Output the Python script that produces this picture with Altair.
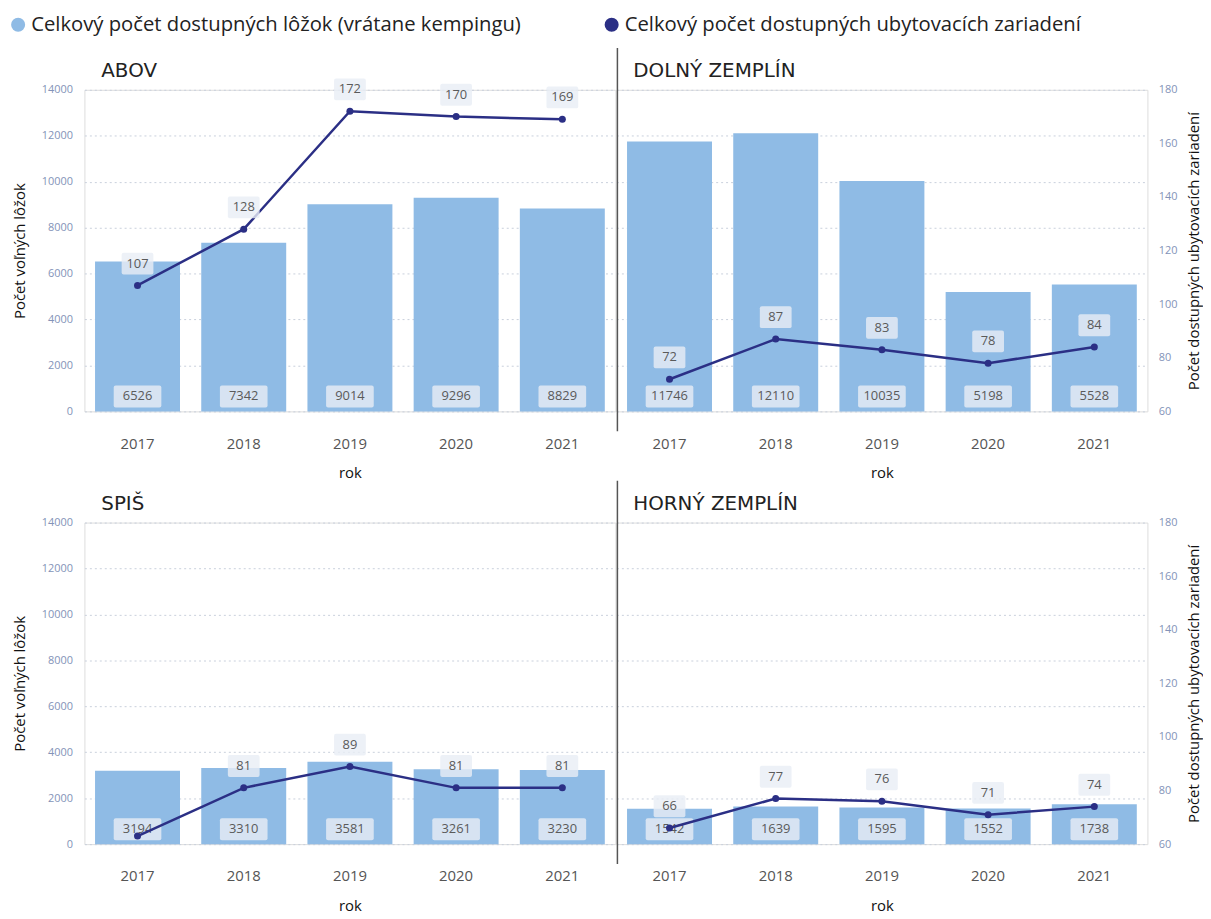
import altair as alt
import pandas as pd

# ---------------- data ----------------
regions = ["ABOV", "DOLNÝ ZEMPLÍN", "SPIŠ", "HORNÝ ZEMPLÍN"]
years = ["2017", "2018", "2019", "2020", "2021"]

beds_abov = [6526, 7342, 9014, 9296, 8829]
beds_dolny = [11746, 12110, 10035, 5198, 5528]
beds_spis = [3194, 3310, 3581, 3261, 3230]
beds_horny = [1542, 1639, 1595, 1552, 1738]

fac_abov = [107, 128, 172, 170, 169]
fac_dolny = [72, 87, 83, 78, 84]
fac_spis = [63, 81, 89, 81, 81]
fac_horny = [66, 77, 76, 71, 74]

bed_ticks = [0, 2000, 4000, 6000, 8000, 10000, 12000, 14000]
fac_ticks = [60, 80, 100, 120, 140, 160, 180]

series_beds = "Celkový počet dostupných lôžok (vrátane kempingu)"
series_fac = "Celkový počet dostupných ubytovacích zariadení"

beds_by_region = [beds_abov, beds_dolny, beds_spis, beds_horny]
fac_by_region = [fac_abov, fac_dolny, fac_spis, fac_horny]

rows = []
for reg, bl, fl in zip(regions, beds_by_region, fac_by_region):
    for y, b, f in zip(years, bl, fl):
        rows.append({"region": reg, "rok": y, "beds": b, "fac": f,
                     "s_beds": series_beds, "s_fac": series_fac})
df = pd.DataFrame(rows)

# ---------------- styling ----------------
BAR = "#8fbbe5"
LINE = "#2b2f85"
color_scale = alt.Scale(domain=[series_beds, series_fac], range=[BAR, LINE])

FONT = "Open Sans"
PW, PH = 535, 324

legend = alt.Legend(
    title=None, orient="none", legendX=-77, legendY=-76, direction="horizontal",
    labelFont=FONT, labelFontSize=20.4, labelColor="#222222", labelLimit=800,
    symbolType="circle", symbolSize=200, columnPadding=81, labelOffset=3,
    symbolStrokeWidth=0, symbolOpacity=1,
)

box_wide = ("M-2.2,-1.1L2.2,-1.1Q2.4,-1.1 2.4,-0.9L2.4,0.9Q2.4,1.1 2.2,1.1"
            "L-2.2,1.1Q-2.4,1.1 -2.4,0.9L-2.4,-0.9Q-2.4,-1.1 -2.2,-1.1Z")
box_narrow = ("M-1.4,-1.1L1.4,-1.1Q1.6,-1.1 1.6,-0.9L1.6,0.9Q1.6,1.1 1.4,1.1"
              "L-1.4,1.1Q-1.6,1.1 -1.6,0.9L-1.6,-0.9Q-1.6,-1.1 -1.4,-1.1Z")


def panel(region, side):
    d = df[df.region == region]
    base = alt.Chart(d)
    x = alt.X(
        "rok:N", sort=years,
        scale=alt.Scale(paddingInner=0.2, paddingOuter=0.1),
        axis=alt.Axis(title="rok", labelAngle=0, ticks=False, domain=False,
                      labelFont=FONT, labelFontSize=15, labelColor="#555555",
                      labelPadding=25, titleFont=FONT, titleFontSize=15,
                      titleFontWeight="normal", titleColor="#111111",
                      titlePadding=15),
    )
    grid_kw = dict(values=bed_ticks, grid=True, gridDash=[2, 3],
                   gridColor="#c9d0dc", gridWidth=1, ticks=False, domain=False)
    if side == "left":
        bar_axis = alt.Axis(title="Počet voľných lôžok", format="d",
                            labelFont=FONT, labelFontSize=11,
                            labelColor="#8393b8", labelPadding=12,
                            titleFont=FONT, titleFontSize=15,
                            titleFontWeight="normal", titleColor="#111111",
                            titlePadding=14, **grid_kw)
        line_axis = None
    else:
        bar_axis = alt.Axis(title=None, labels=False, **grid_kw)
        line_axis = alt.Axis(orient="right", values=fac_ticks, grid=False,
                             ticks=False, domain=False, labelFont=FONT,
                             labelFontSize=11, labelColor="#8393b8",
                             labelPadding=11,
                             title="Počet dostupných ubytovacích zariadení",
                             titleFont=FONT, titleFontSize=15,
                             titleFontWeight="normal", titleColor="#111111",
                             titleAngle=270, titleBaseline="top",
                             titlePadding=10)

    ybar = alt.Y("beds:Q", scale=alt.Scale(domain=[0, 14000]), axis=bar_axis)
    bars = base.mark_bar().encode(
        x=x, y=ybar,
        color=alt.Color("s_beds:N", scale=color_scale, legend=legend))
    bar_box = base.mark_point(shape=box_wide, filled=True, size=400,
                              fill="#e8eef5", opacity=0.8, strokeWidth=0,
                              yOffset=-15).encode(x=x, y=alt.datum(0))
    bar_txt = base.mark_text(font=FONT, fontSize=13, color="#5a5a5a",
                             dy=-15).encode(x=x, y=alt.datum(0),
                                            text=alt.Text("beds:Q", format="d"))
    bar_group = alt.layer(bars, bar_box, bar_txt)

    yl = alt.Y("fac:Q", scale=alt.Scale(domain=[60, 180]), axis=line_axis)
    line = base.mark_line(strokeWidth=2.5).encode(
        x=x, y=yl, color=alt.Color("s_fac:N", scale=color_scale, legend=None))
    pts = base.mark_circle(size=50, opacity=1).encode(
        x=x, y=yl, color=alt.Color("s_fac:N", scale=color_scale, legend=legend))
    # labels that would collide with the bar labels at the bottom are hidden
    lab = base.transform_filter("datum.fac > 64")
    l_box = lab.mark_point(shape=box_narrow, filled=True, size=400,
                           fill="#e8eef5", opacity=0.8, strokeWidth=0,
                           yOffset=-22).encode(x=x, y=alt.Y("fac:Q"))
    l_txt = lab.mark_text(font=FONT, fontSize=13, color="#5a5a5a",
                          dy=-22).encode(x=x, y=alt.Y("fac:Q"),
                                         text=alt.Text("fac:Q", format="d"))
    line_group = alt.layer(line, pts, l_box, l_txt)

    title = alt.Chart(pd.DataFrame({"t": [region]})).mark_text(
        align="left", baseline="middle", font="DejaVu Sans", fontSize=20,
        color="#222222").encode(x=alt.value(17), y=alt.value(-19), text="t:N")

    layers = [bar_group, line_group, title]
    if side == "right":
        sep = alt.Chart(pd.DataFrame({"a": [0]})).mark_rule(
            color="#555555", strokeWidth=1.5).encode(
            x=alt.value(1), y=alt.value(-42), y2=alt.value(344))
        layers.append(sep)

    return alt.layer(*layers).resolve_scale(y="independent").properties(
        width=PW, height=PH)


top = alt.hconcat(panel("ABOV", "left"), panel("DOLNÝ ZEMPLÍN", "right"), spacing=-7)
bottom = alt.hconcat(panel("SPIŠ", "left"), panel("HORNÝ ZEMPLÍN", "right"), spacing=-7)

chart = alt.vconcat(top, bottom, spacing=-3).properties(
    padding={"left": 0, "top": 3, "right": 0, "bottom": 0}
).configure_view(strokeWidth=0).configure(font=FONT)

chart.save("out.html", embed_options={"renderer": "svg", "actions": False})
